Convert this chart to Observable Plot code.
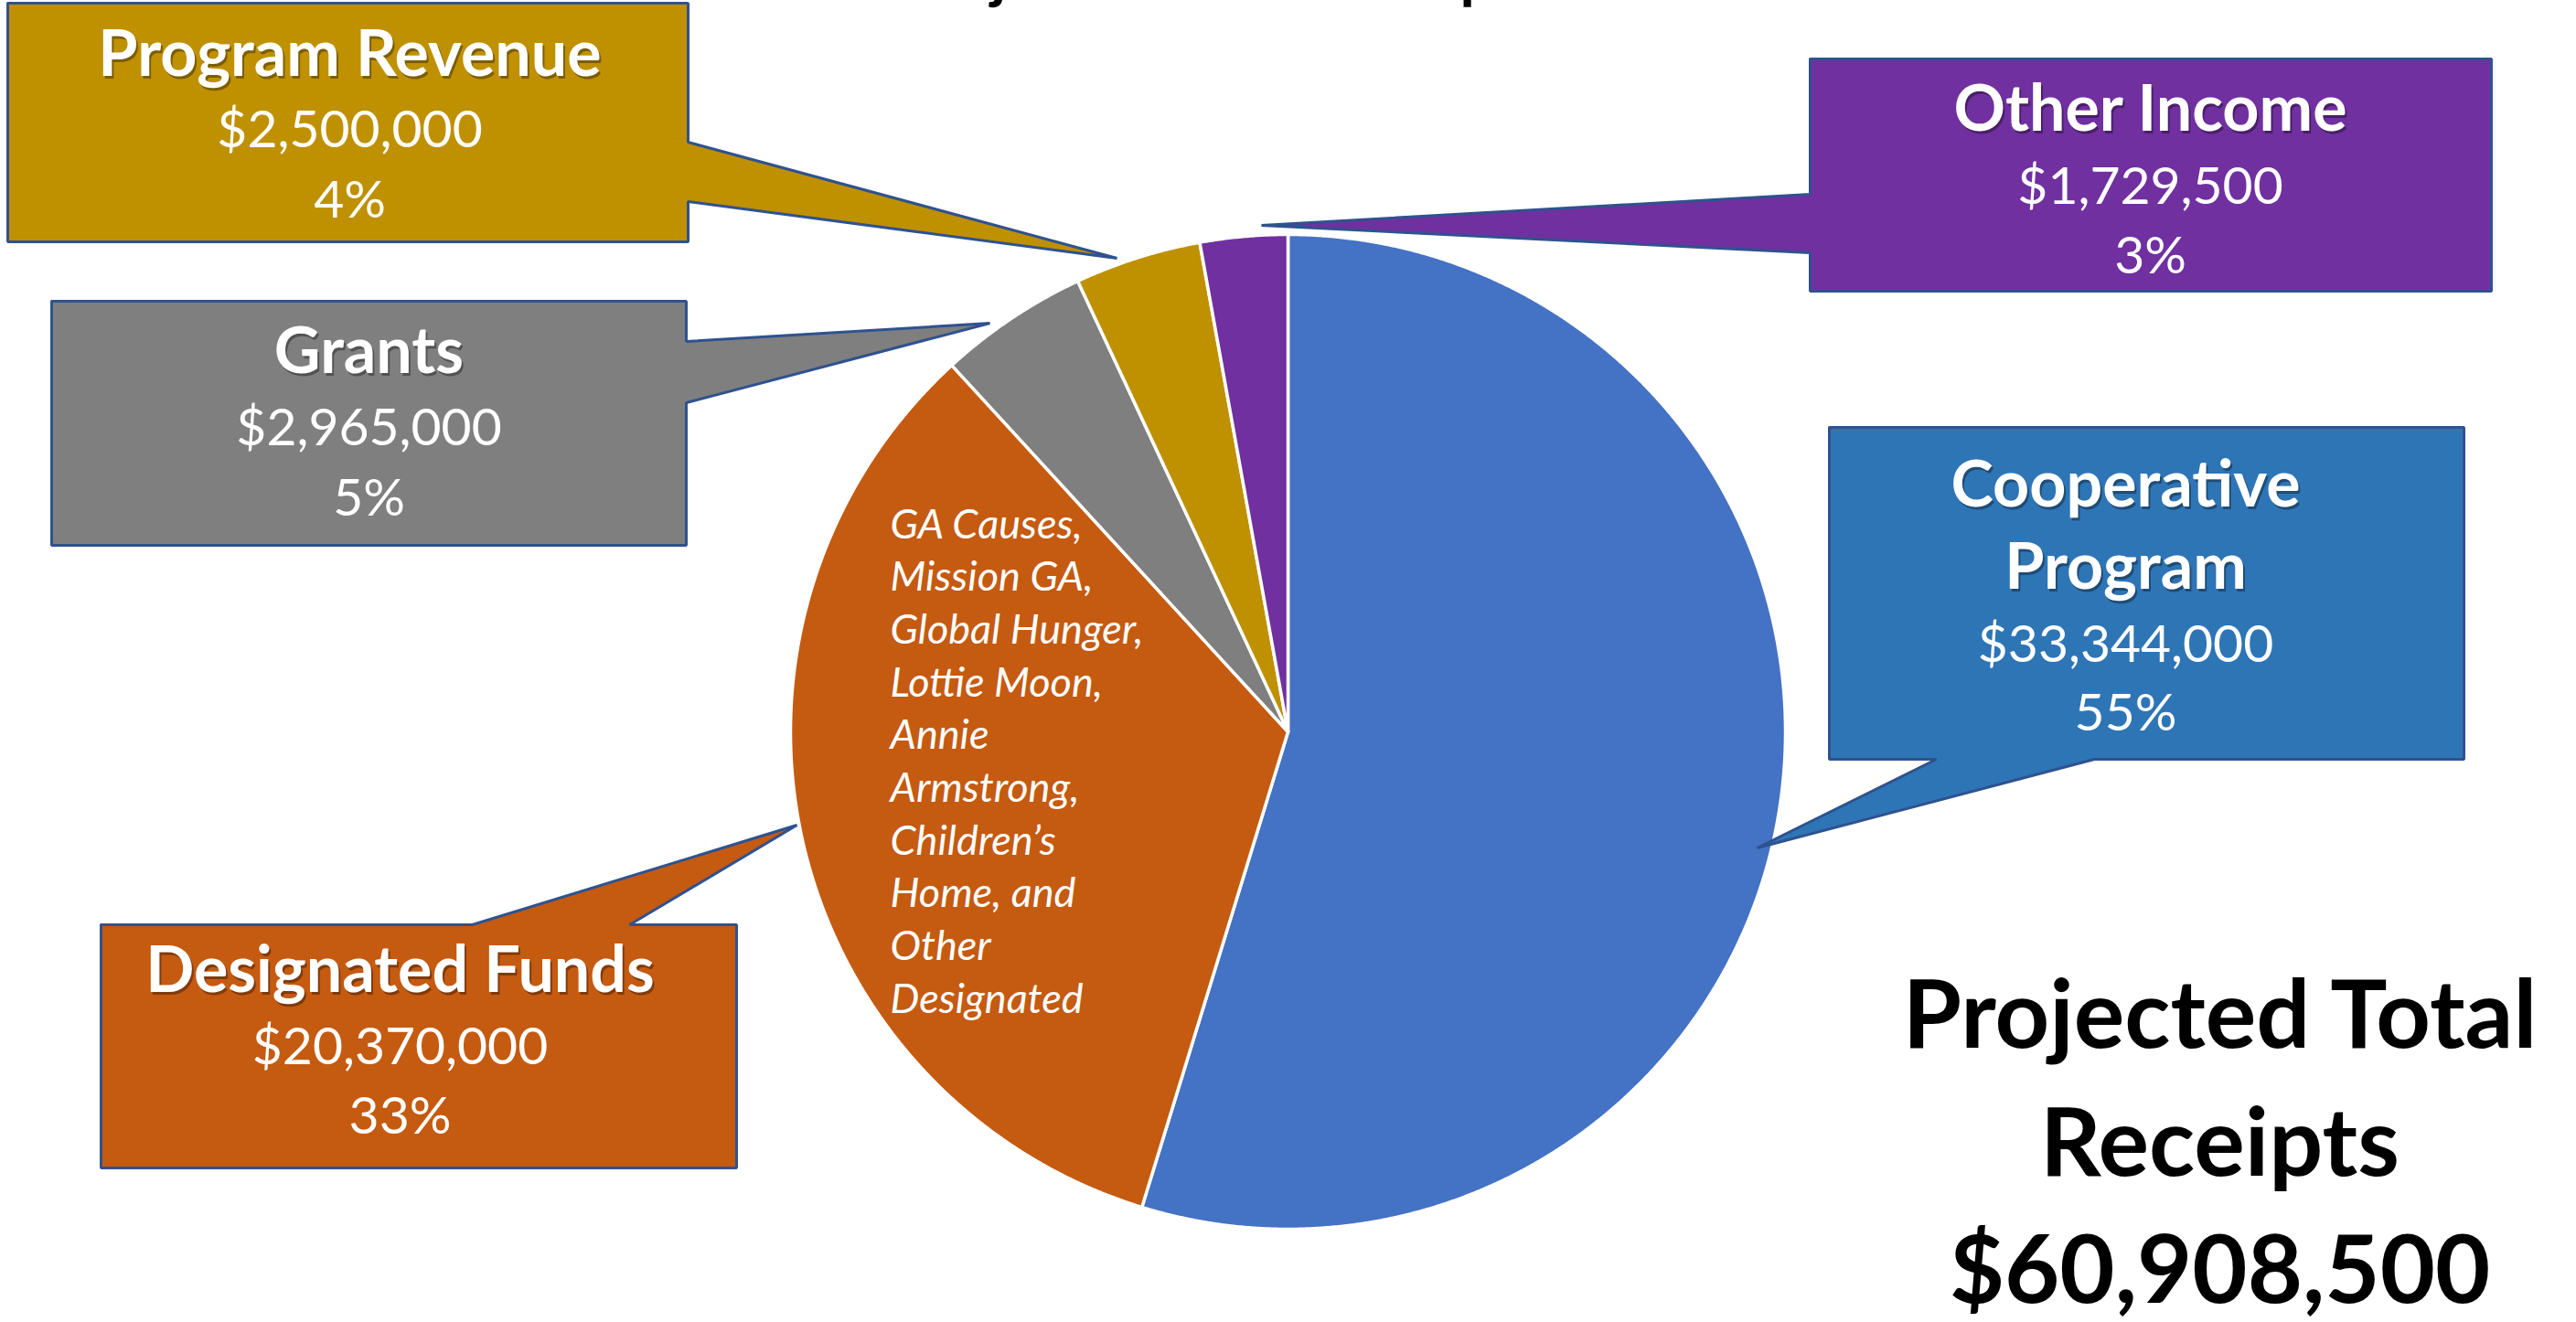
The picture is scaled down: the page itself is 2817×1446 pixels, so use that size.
<!DOCTYPE html>
<html><head><meta charset="utf-8">
<script src="https://cdn.jsdelivr.net/npm/d3@7"></script>
<script src="https://cdn.jsdelivr.net/npm/@observablehq/plot@0.6"></script>
<style>html,body{margin:0;padding:0;background:#fff;overflow:hidden} svg{display:block}</style>
</head><body><div id="chart"></div>
<script>
// ---- data ----
const categories = ["Cooperative Program", "Designated Funds", "Grants", "Program Revenue", "Other Income"];
const amounts = [33344000, 20370000, 2965000, 2500000, 1729500];
const sliceColors = ["#4472C4", "#C55A11", "#7F7F7F", "#BF9000", "#7030A0"];
const boxColors = ["#2E75B6", "#C55A11", "#7F7F7F", "#BF9000", "#7030A0"];
const titleLines = [["Cooperative", "Program"], ["Designated Funds"], ["Grants"], ["Program Revenue"], ["Other Income"]];
const designatedNote = ["GA Causes,", "Mission GA,", "Global Hunger,", "Lottie Moon,", "Annie", "Armstrong,", "Children\u2019s", "Home, and", "Other", "Designated"];
const totalLines = ["Projected Total", "Receipts"];
const chartTitle = "Projected Total Receipts";

// ---- layout (pixel space) ----
const W = 2817, H = 1446;
const pieLayout = {cx: 1408, cy: 800, r: 544};
const calloutLayout = [
  {box: [2000, 467, 2694, 830], side: "bottom", base: [2117, 2290], tip: [1921, 927], tx: 2324, ty: [553, 643, 723, 798]},
  {box: [110, 1011, 805, 1277], side: "top", base: [516, 688], tip: [871, 902], tx: 437, ty: [1084, 1163, 1239]},
  {box: [56, 329, 750, 596], side: "right", base: [373, 440], tip: [1082, 353], tx: 403, ty: [407, 486, 563]},
  {box: [8, 3, 752, 264], side: "right", base: [155, 220], tip: [1221, 282], tx: 382, ty: [82, 160, 237]},
  {box: [1979, 64, 2724, 318], side: "left", base: [212, 276], tip: [1379, 246], tx: 2351, ty: [142, 222, 298]}
];
const noteLayout = {x: 973, y0: 588, dy: 57.7};
const totalLayout = {x: 2427, ys: [1145, 1285, 1424]};
const titleLayout = {x: 1334, y: -5};
const FONT = "Lato, 'Open Sans', sans-serif";

// ---- derived ----
const total = d3.sum(amounts);
const fmt = d3.format(",");
const {cx, cy, r} = pieLayout;
const arcs = d3.pie().sort(null).value(d => d)(amounts);

const slicePts = arcs.flatMap((a, i) => {
  const cat = categories[i];
  const n = Math.max(4, Math.ceil((a.endAngle - a.startAngle) / 0.004));
  const pts = [{cat, x: cx, y: cy}];
  for (let k = 0; k <= n; k++) {
    const t = a.startAngle + (a.endAngle - a.startAngle) * k / n;
    pts.push({cat, x: cx + r * Math.sin(t), y: cy - r * Math.cos(t)});
  }
  pts.push({cat, x: cx, y: cy});
  return pts;
});

function calloutPolygon(L, cat) {
  const [x0, y0, x1, y1] = L.box, [a, b] = L.base, tip = L.tip;
  let p;
  if (L.side === "top") p = [[x0, y0], [a, y0], tip, [b, y0], [x1, y0], [x1, y1], [x0, y1]];
  else if (L.side === "right") p = [[x0, y0], [x1, y0], [x1, a], tip, [x1, b], [x1, y1], [x0, y1]];
  else if (L.side === "bottom") p = [[x0, y0], [x1, y0], [x1, y1], [b, y1], tip, [a, y1], [x0, y1]];
  else p = [[x0, y0], [x1, y0], [x1, y1], [x0, y1], [x0, b], tip, [x0, a]];
  p.push(p[0]);
  return p.map(([x, y]) => ({cat, x, y}));
}

const titleRows = [], valueRows = [];
categories.forEach((c, i) => {
  const L = calloutLayout[i];
  titleLines[i].forEach((t, j) => titleRows.push({x: L.tx, y: L.ty[j], text: t}));
  const n = titleLines[i].length;
  valueRows.push({x: L.tx, y: L.ty[n], text: "$" + fmt(amounts[i])});
  valueRows.push({x: L.tx, y: L.ty[n + 1], text: Math.round(amounts[i] / total * 100) + "%"});
});
const noteRows = designatedNote.map((t, k) => ({x: noteLayout.x, y: noteLayout.y0 + k * noteLayout.dy, text: t}));
const totalRows = [...totalLines, "$" + fmt(total)].map((t, k) => ({x: totalLayout.x, y: totalLayout.ys[k], text: t}));

const marks = [];
arcs.forEach((a, i) => {
  marks.push(Plot.line(slicePts.filter(d => d.cat === categories[i]), {
    x: "x", y: "y", fill: sliceColors[i], stroke: "white", strokeWidth: 3.5, strokeLinejoin: "round"
  }));
});
categories.forEach((c, i) => {
  marks.push(Plot.line(calloutPolygon(calloutLayout[i], c), {
    x: "x", y: "y", fill: boxColors[i], stroke: "#2F528F", strokeWidth: 3, strokeLinejoin: "miter"
  }));
});
marks.push(
  Plot.text(titleRows, {x: "x", y: "y", text: "text", lineAnchor: "bottom", textAnchor: "middle", dx: 2, dy: 3,
    fill: "black", fillOpacity: 0.35, fontSize: 70, fontWeight: "bold", fontFamily: FONT}),
  Plot.text(titleRows, {x: "x", y: "y", text: "text", lineAnchor: "bottom", textAnchor: "middle",
    fill: "white", fontSize: 70, fontWeight: "bold", fontFamily: FONT}),
  Plot.text(valueRows, {x: "x", y: "y", text: "text", lineAnchor: "bottom", textAnchor: "middle",
    fill: "white", fontSize: 57, fontFamily: FONT}),
  Plot.text(noteRows, {x: "x", y: "y", text: "text", lineAnchor: "bottom", textAnchor: "start",
    fill: "white", fontSize: 45, fontStyle: "italic", fontFamily: FONT}),
  Plot.text(totalRows, {x: "x", y: "y", text: "text", lineAnchor: "bottom", textAnchor: "middle",
    fill: "black", fontSize: 104, fontWeight: "bold", fontFamily: FONT}),
  Plot.text([chartTitle], {x: () => titleLayout.x, y: () => titleLayout.y, text: d => d, lineAnchor: "bottom", textAnchor: "middle",
    fill: "black", fontSize: 66, fontWeight: "bold", fontFamily: FONT})
);

const chart = Plot.plot({
  width: W, height: H, margin: 0,
  x: {domain: [0, W], range: [0, W], axis: null},
  y: {domain: [0, H], range: [0, H], axis: null},
  style: {background: "white", overflow: "visible"},
  marks
});
document.getElementById("chart").append(chart);
</script>
</body></html>
